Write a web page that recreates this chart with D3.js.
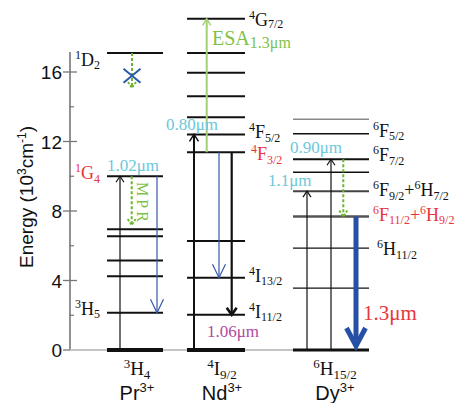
<!DOCTYPE html>
<html><head><meta charset="utf-8">
<script src="https://cdn.jsdelivr.net/npm/d3@7"></script>
<style>body{margin:0;background:#fff}svg{display:block}</style>
</head><body><svg id="c" width="455" height="403"></svg>
<script>
// ---------------- data ----------------
const ions = ["Pr", "Nd", "Dy"];
const groundLabels = ["^3 H _4", "^4 I _9/2", "^6 H _15/2"];
const prLevels = [0, 2.14, 4.25, 5.15, 6.55, 6.95, 10.0, 17.1];
const ndLevels = [0, 2.03, 4.16, 6.28, 11.38, 12.41, 13.4, 14.6, 15.95, 17.1, 19.06];
const dyLevels = [0, 3.56, 5.86, 7.68, 9.14, 10.23, 10.98, 12.45, 13.28];
const majorTicks = [0, 4, 8, 12, 16];
const minorTicks = [2, 6, 10, 14];
const axisTop = 17.15;
// transitions: ion, from, to (10^3 cm^-1), kind
const transitions = [
  {id:"prPump", ion:"Pr", from:0,     to:10.0,  kind:"pump"},
  {id:"prNR",   ion:"Pr", from:17.1,  to:15.08, kind:"nr"},
  {id:"prMPR",  ion:"Pr", from:10.0,  to:7.19,  kind:"nr"},
  {id:"prEm",   ion:"Pr", from:10.0,  to:2.14,  kind:"em"},
  {id:"ndPump", ion:"Nd", from:0,     to:12.41, kind:"pump2"},
  {id:"ndESA",  ion:"Nd", from:11.38, to:19.06, kind:"esa"},
  {id:"ndEm13", ion:"Nd", from:11.38, to:4.16,  kind:"em"},
  {id:"ndEm11", ion:"Nd", from:11.38, to:2.03,  kind:"emBlack"},
  {id:"dyPump1",ion:"Dy", from:0,     to:9.14,  kind:"pump"},
  {id:"dyPump2",ion:"Dy", from:0,     to:10.98, kind:"pump"},
  {id:"dyNR",   ion:"Dy", from:10.98, to:7.68,  kind:"nr"},
  {id:"dyEm",   ion:"Dy", from:7.68,  to:0,     kind:"emThick"}
];
// level labels: ion, energy of level, text, colour key
const levelLabels = [
  {ion:"Pr", e:17.1,  t:"^1 D _2", c:"black"},
  {ion:"Pr", e:10.0,  t:"^1 G _4", c:"red"},
  {ion:"Pr", e:2.14,  t:"^3 H _5", c:"black"},
  {ion:"Nd", e:19.06, t:"^4 G _7/2", c:"black"},
  {ion:"Nd", e:12.41, t:"^4 F _5/2", c:"black"},
  {ion:"Nd", e:11.38, t:"^4 F _3/2", c:"red"},
  {ion:"Nd", e:4.16,  t:"^4 I _13/2", c:"black"},
  {ion:"Nd", e:2.03,  t:"^4 I _11/2", c:"black"},
  {ion:"Dy", e:12.45, t:"^6 F _5/2", c:"black"},
  {ion:"Dy", e:10.98, t:"^6 F _7/2", c:"black"},
  {ion:"Dy", e:9.14,  t:"^6 F _9/2 + ^6 H _7/2", c:"black"},
  {ion:"Dy", e:7.68,  t:"^6 F _11/2 + ^6 H _9/2", c:"red"},
  {ion:"Dy", e:5.86,  t:"^6 H _11/2", c:"black"}
];
const wavelengthLabels = [
  {id:"pr102", t:"1.02μm", c:"cyan"},
  {id:"nd080", t:"0.80μm", c:"cyan"},
  {id:"nd106", t:"1.06μm", c:"magenta"},
  {id:"dy090", t:"0.90μm", c:"cyan"},
  {id:"dy11",  t:"1.1μm",  c:"cyan"},
  {id:"dy13",  t:"1.3μm",  c:"red"}
];

// ---------------- layout & style ----------------
const colors = {black:"#111", red:"#e8343c", cyan:"#6cc8da", magenta:"#b04a9e",
  green:"#6cb52f", esa:"#a3d075", esaText:"#7fc24a", blue:"#3558a8", blueThick:"#2550a6", gray:"#777"};
const cols = {Pr:{x0:107, x1:163}, Nd:{x0:187, x1:245}, Dy:{x0:293, x1:369}};
const transX = {prPump:120, prNR:132, prMPR:131.7, prEm:157, ndPump:194, ndESA:206.7,
  ndEm13:219, ndEm11:231.7, dyPump1:307, dyPump2:331, dyNR:343.3, dyEm:356};
const axisX = 70;
const serif = "'Liberation Serif','Times New Roman',serif";
const sans = "'Liberation Sans',Arial,sans-serif";

const svg = d3.select("#c");
svg.append("rect").attr("width",455).attr("height",403).attr("fill","#fff");
const y = d3.scaleLinear().domain([0, 16]).range([350, 72]);

// rich text helper: tokens separated by spaces, ^ = superscript, _ = subscript
function rich(g, x, yb, str, opt) {
  const fs = opt.fs || 18, ss = opt.ss || 12;
  const t = g.append("text").attr("x", x).attr("y", yb)
    .attr("font-family", opt.family || serif).attr("font-size", fs)
    .attr("fill", opt.fill || colors.black).attr("text-anchor", opt.anchor || "start");
  let cur = 0;
  str.split(" ").forEach(tok => {
    let shift = 0, size = fs, txt = tok;
    if (tok[0] === "^") { shift = -(opt.supShift || 7); size = ss; txt = tok.slice(1); }
    else if (tok[0] === "_") { shift = (opt.subShift || 3.5); size = ss; txt = tok.slice(1); }
    t.append("tspan").attr("dy", shift - cur).attr("font-size", size).text(txt);
    cur = shift;
  });
  return t;
}

// ---------------- axis ----------------
const ax = svg.append("g");
ax.append("line").attr("x1", axisX).attr("x2", axisX).attr("y1", y(0)).attr("y2", y(axisTop))
  .attr("stroke", "#777").attr("stroke-width", 1.6);
ax.selectAll(".maj").data(majorTicks).join("line")
  .attr("x1", axisX - 7).attr("x2", axisX + 7).attr("y1", d => y(d)).attr("y2", d => y(d))
  .attr("stroke", "#777").attr("stroke-width", 1.3);
ax.selectAll(".min").data(minorTicks).join("line")
  .attr("x1", axisX - 1).attr("x2", axisX + 4).attr("y1", d => y(d)).attr("y2", d => y(d))
  .attr("stroke", "#777").attr("stroke-width", 1.2);
ax.selectAll(".tl").data(majorTicks).join("text")
  .attr("x", axisX - 8).attr("y", d => y(d) + 7).attr("text-anchor", "end")
  .attr("font-family", sans).attr("font-size", 19).attr("fill", "#111").text(d => d);
// axis title
const tt = svg.append("text").attr("transform", "translate(33,197) rotate(-90)")
  .attr("text-anchor", "middle").attr("font-family", sans).attr("font-size", 19).attr("fill", "#111");
tt.append("tspan").text("Energy (10");
tt.append("tspan").attr("dy", -7).attr("font-size", 12).text("3");
tt.append("tspan").attr("dy", 7).text("cm");
tt.append("tspan").attr("dy", -7).attr("font-size", 12).text("-1");
tt.append("tspan").attr("dy", 7).text(")");

// baseline at zero
svg.append("line").attr("x1", axisX).attr("x2", cols.Dy.x0).attr("y1", y(0)).attr("y2", y(0))
  .attr("stroke", "#c4c4c4").attr("stroke-width", 2);

// ---------------- levels ----------------
const levelSets = {Pr: prLevels, Nd: ndLevels, Dy: dyLevels};
const dyStroke = {0:["#111",3], 1:["#111",1.3], 2:["#111",1.3], 3:["#555",2.6], 4:["#444",2],
  5:["#111",1.3], 6:["#111",2], 7:["#111",1.5], 8:["#888",1.5]};
ions.forEach(ion => {
  const c = cols[ion];
  svg.append("g").selectAll("line").data(levelSets[ion]).join("line")
    .attr("x1", c.x0).attr("x2", c.x1).attr("y1", d => y(d)).attr("y2", d => y(d))
    .attr("stroke", (d, i) => ion === "Dy" ? dyStroke[i][0] : "#111")
    .attr("stroke-width", (d, i) => ion === "Dy" ? dyStroke[i][1] : (d === 0 ? 4 : 2));
});

// ---------------- transitions ----------------
const styles = {
  pump:   {color:"#111", w:1.2, hw:4, hh:6, hs:1.2},
  pump2:  {color:"#111", w:2, hw:4.5, hh:7, hs:1.5},
  nr:     {color:colors.green, w:2, dash:"3,2", hw:4, hh:6, hs:1.8},
  em:     {color:colors.blue, w:1.2, hw:6.5, hh:13.5, hs:1.2},
  emBlack:{color:"#111", w:2.2, hw:5, hh:7, hs:2.6},
  esa:    {color:colors.esa, w:2, hw:4, hh:6.5, hs:1.4},
  emThick:{color:colors.blueThick, w:5, hw:9.5, hh:18, hs:5}
};
const tg = svg.append("g");
transitions.forEach(t => {
  const s = styles[t.kind], x = transX[t.id];
  const y1 = y(t.from), y2 = y(t.to), dir = Math.sign(y2 - y1);
  const tip = t.kind === "emThick" ? y2 - 4 : y2;
  tg.append("line").attr("x1", x).attr("x2", x).attr("y1", y1).attr("y2", tip - dir * (t.kind === "emThick" ? 6 : 0))
    .attr("stroke", s.color).attr("stroke-width", s.w).attr("stroke-dasharray", s.dash || null);
  tg.append("path")
    .attr("d", `M${x - s.hw},${tip - dir * s.hh}L${x},${tip}L${x + s.hw},${tip - dir * s.hh}`)
    .attr("fill", "none").attr("stroke", s.color).attr("stroke-width", s.hs)
    .attr("stroke-dasharray", s.dash ? "2.5,1.5" : null).attr("stroke-linejoin", "miter");
});
// quenched cross in Pr 1D2 relaxation
const cx = transX.prNR, cy = y(15.78);
tg.append("path").attr("d", `M${cx-8.5},${cy-7}L${cx+8.5},${cy+7}M${cx-8.5},${cy+7}L${cx+8.5},${cy-7}`)
  .attr("stroke", "#2a5aa8").attr("stroke-width", 2).attr("fill", "none");

// ---------------- labels ----------------
const lg = svg.append("g");
const labelPos = {
  "Pr|17.1": [100, 13, "end"], "Pr|10": [100, 3, "end"], "Pr|2.14": [100, 2, "end"],
  "Nd|19.06": [249, 7, "start"], "Nd|12.41": [249, 4, "start"], "Nd|11.38": [251, 8, "start"],
  "Nd|4.16": [249, 4, "start"], "Nd|2.03": [249, 3, "start"],
  "Dy|12.45": [373, 3, "start"], "Dy|10.98": [373, 2, "start"], "Dy|9.14": [373, 5, "start"],
  "Dy|7.68": [373, 4, "start"], "Dy|5.86": [377, 7, "start"]
};
levelLabels.forEach(l => {
  const p = labelPos[l.ion + "|" + l.e];
  rich(lg, p[0], y(l.e) + p[1], l.t, {fill: colors[l.c], anchor: p[2],
    subShift: l.e === 19.06 ? 2.5 : 3.5});
});
// ground state labels and ion names
ions.forEach((ion, i) => {
  const cxm = {Pr:137, Nd:222, Dy:335}[ion];
  rich(lg, cxm, 375, groundLabels[i], {anchor:"middle", fs:19, ss:13});
  const tx = lg.append("text").attr("x", cxm).attr("y", 400).attr("text-anchor", "middle")
    .attr("font-family", sans).attr("font-size", 20).attr("fill", "#111");
  tx.append("tspan").text(ion);
  tx.append("tspan").attr("dy", -8).attr("font-size", 13).text("3+");
});
// wavelength labels
const wlPos = {pr102:[107,171], nd080:[166,130], nd106:[207,337], dy090:[290,153], dy11:[268,186], dy13:[363,320]};
wavelengthLabels.forEach(w => {
  const p = wlPos[w.id];
  lg.append("text").attr("x", p[0]).attr("y", p[1]).attr("font-family", serif)
    .attr("font-size", w.id === "dy13" ? 21 : 17).attr("fill", colors[w.c]).text(w.t);
});
// ESA label
const esa = lg.append("text").attr("x", 212).attr("y", 45).attr("font-family", serif)
  .attr("fill", colors.esaText).attr("font-size", 20);
esa.append("tspan").text("ESA");
esa.append("tspan").attr("dy", 3).attr("font-size", 16).text("1.3μm");
// MPR label (rotated)
lg.append("text").attr("transform", `translate(137,202) rotate(90)`).attr("text-anchor", "middle")
  .attr("font-family", serif).attr("font-size", 16).attr("textLength", 40)
  .attr("fill", colors.esaText).text("MPR");
</script></body></html>
